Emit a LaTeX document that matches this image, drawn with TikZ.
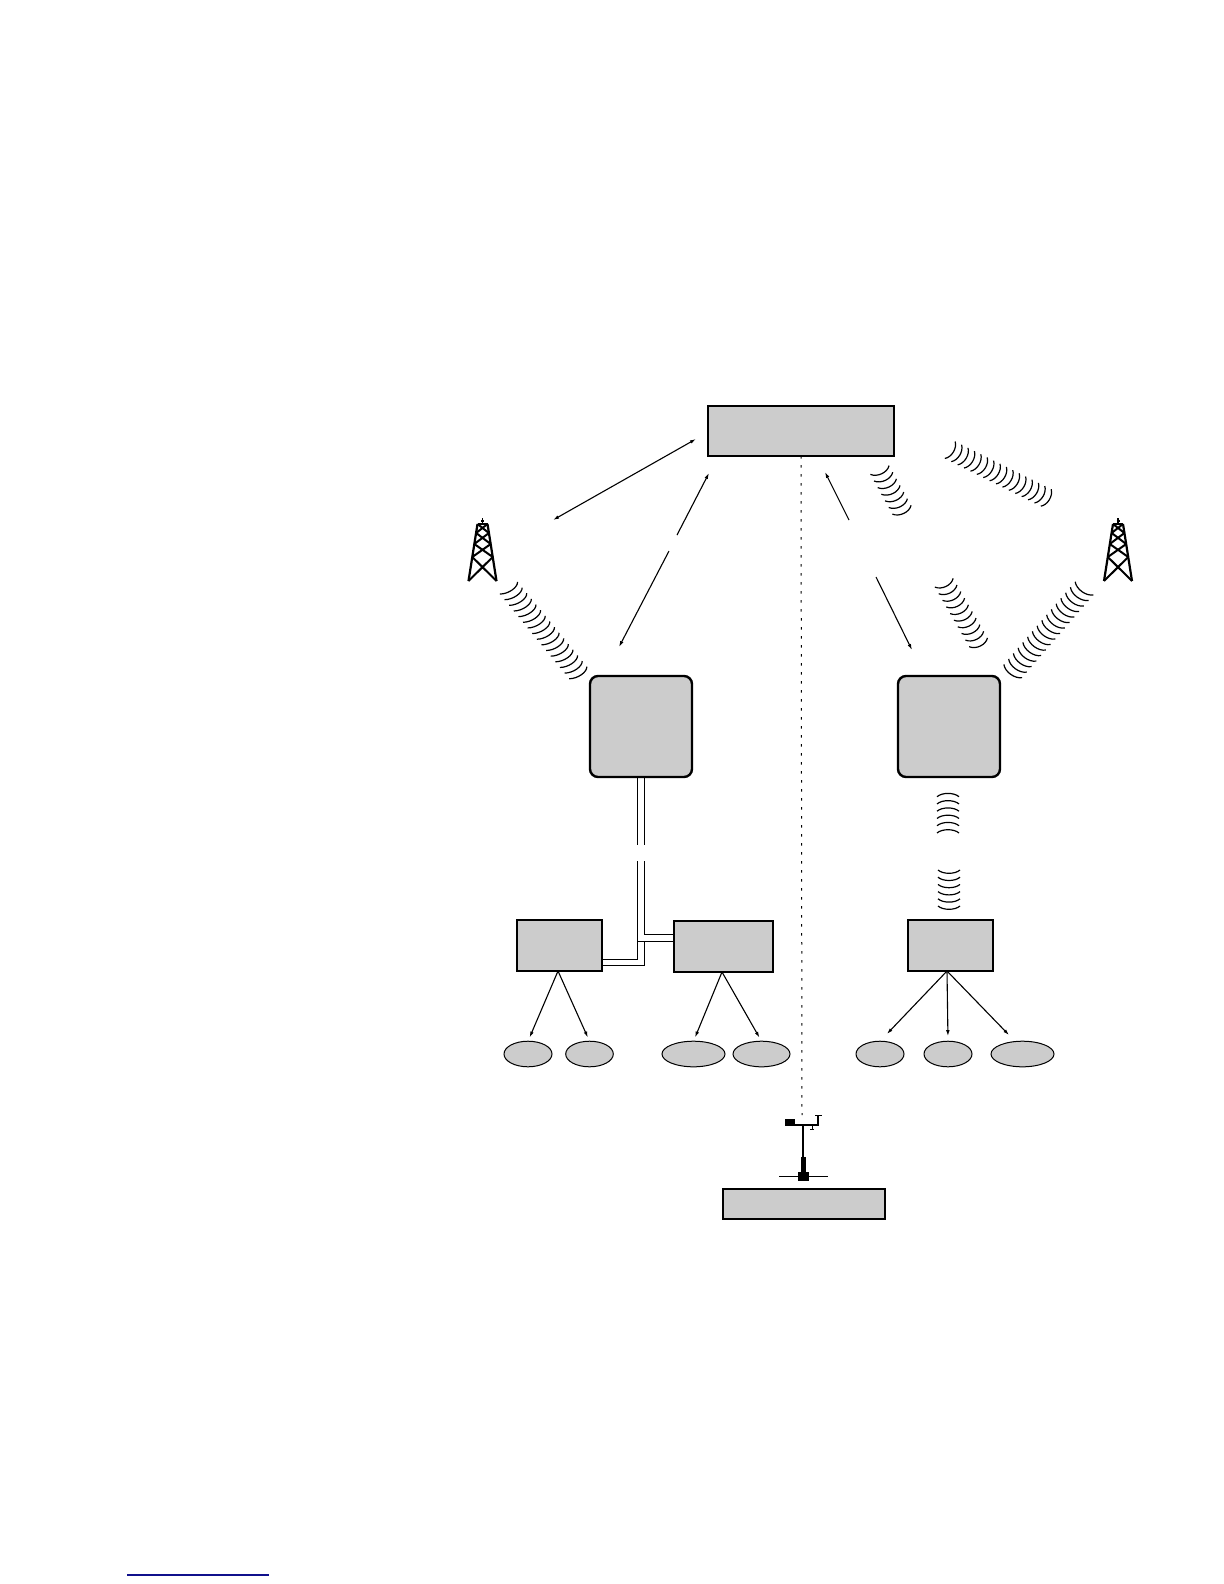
\documentclass[tikz,border=0pt]{standalone}
\usepackage{tikz}
\usetikzlibrary{arrows.meta,calc,shapes.geometric}
\usepackage{xcolor}
\definecolor{BoxGray}{HTML}{CCCCCC}
\definecolor{RuleBlue}{HTML}{10108C}
\tikzset{
  unitbox/.style={draw,fill=BoxGray,line width=1.2pt,inner sep=0pt,outer sep=0pt},
  gatebox/.style={unitbox,rounded corners=4pt},
  leafnode/.style={draw,fill=BoxGray,ellipse,line width=0.5pt,inner sep=0pt,outer sep=0pt,minimum height=12.8pt},
  link/.style={line width=0.55pt,{Latex[length=3pt,width=1.8pt]}-{Latex[length=3pt,width=1.8pt]}},
  fanout/.style={line width=0.55pt,-{Latex[length=3pt,width=1.8pt]}},
  cable/.style={line width=0.45pt},
  wave/.style={line width=0.6pt},
}
\newcommand{\wavearcs}[5]{%
  \foreach \i in {1,...,#3}{
    \pgfmathsetmacro\wt{(\i-1)/(#3-1)}
    \coordinate (wc) at ($#1!\wt!#2$);
    \draw[wave] ($(wc)-1.1*#4$) .. controls ($(wc)-0.6*#4+0.55*#5$) and ($(wc)+0.6*#4+0.55*#5$) .. ($(wc)+1.1*#4$);
  }
}
\newcommand{\lattower}[1]{%
  \begin{scope}[shift={(#1,524)}]
    \draw[line width=1.1pt] (-5,0)--(5,0);
    \draw[line width=0.8pt] (0,0)--(0,-6) (-1.5,-3)--(1.5,-3);
    \draw[line width=1.1pt] (-5,0)--(-14,57) (5,0)--(14,57);
    \foreach \ya/\wa/\yb/\wb in {0/5/9/6.4,9/6.4/20/8.2,20/8.2/33/10.2,33/10.2/57/14}{
      \draw[line width=1pt] (-\wa,\ya)--(\wb,\yb) (\wa,\ya)--(-\wb,\yb);
    }
  \end{scope}
}
\begin{document}
\begin{tikzpicture}[x=0.5pt,y=-0.5pt,>=Latex]
  \useasboundingbox (0,0) rectangle (1224,1584);
  % main boxes
  \node[unitbox,line width=1.3pt,minimum width=93pt,minimum height=25pt] (server) at (801,431) {};
  \node[gatebox,minimum width=51pt,minimum height=50.5pt] (gwL) at (641,726.5) {};
  \node[gatebox,minimum width=51pt,minimum height=50.5pt] (gwR) at (949,726.5) {};
  \node[unitbox,minimum width=42.5pt,minimum height=25.5pt] (bxL) at (559.5,945.5) {};
  \node[unitbox,minimum width=49.5pt,minimum height=25.5pt] (bxM) at (723.5,946.5) {};
  \node[unitbox,minimum width=42.5pt,minimum height=25.5pt] (bxR) at (950.5,945.5) {};
  \node[unitbox,minimum width=81pt,minimum height=15pt] (station) at (804,1204) {};
  % leaf ellipses
  \foreach \nm/\xx/\wid in {elA/528/24,elB/589.5/23.8,elC/693.5/31.5,elD/761.5/28.5,elE/880/24,elF/948/24,elG/1022.5/31.5}{
    \node[leafnode,minimum width=\wid pt] (\nm) at (\xx,1054) {};
  }
  \draw[fanout,shorten >=2pt] ([xshift=-0.75pt]bxL.south) -- (elA.north);
  \draw[fanout,shorten >=2pt] ([xshift=-0.75pt]bxL.south) -- (elB.north);
  \draw[fanout,shorten >=2pt] ([xshift=-0.75pt]bxM.south) -- (elC.north);
  \draw[fanout,shorten >=2pt] ([xshift=-0.75pt]bxM.south) -- (elD.north);
  \draw[fanout,shorten >=5pt] ([xshift=-1.75pt]bxR.south) -- (elE.north);
  \draw[fanout,shorten >=2.5pt] ([xshift=-1.75pt]bxR.south) -- (elF.north);
  \draw[fanout,shorten >=4.5pt] ([xshift=-1.75pt]bxR.south) -- (elG.120);
  % long arrows, broken where the picture leaves a gap
  \coordinate (tipA) at (696,439);
  \coordinate (tipB) at (553,520);
  \coordinate (tipC) at (709,473);
  \coordinate (tipD) at (677,535);
  \coordinate (tipE) at (669,551);
  \coordinate (tipF) at (619,647);
  \coordinate (tipG) at (825,472);
  \coordinate (tipH) at (849,520);
  \coordinate (tipJ) at (876,577);
  \coordinate (tipK) at (912,650);
  \draw[link] (tipA) -- (tipB);
  \draw[fanout] (tipD) -- (tipC);
  \draw[fanout] (tipE) -- (tipF);
  \draw[fanout] (tipH) -- (tipG);
  \draw[fanout] (tipJ) -- (tipK);
  % wired link
  \coordinate (dnA) at (637,845);
  \coordinate (dnB) at (644,845);
  \coordinate (upA) at (637,861);
  \coordinate (upB) at (644,861);
  \coordinate (jnA) at (637,959);
  \coordinate (jnB) at (644,965);
  \coordinate (jnC) at (637,941);
  \coordinate (jnD) at (644,934);
  \coordinate (jnE) at (644,941);
  \draw[cable] (dnA |- gwL.south) -- (dnA);
  \draw[cable] (dnB |- gwL.south) -- (dnB);
  \draw[cable] (upA) -- (jnA) -- (jnA -| bxL.east);
  \draw[cable] (upB) -- (jnD) -- (jnD -| bxM.west);
  \draw[cable] (jnE) -- (jnB) -- (jnB -| bxL.east);
  \draw[cable] (jnC) -- (jnC -| bxM.west);
  % radio links
  \wavearcs{(508.7,588)}{(578,672.7)}{16}{(8,-5.5)}{(8,5)}
  \wavearcs{(950,450)}{(1046,497.7)}{16}{(4.7,-7.7)}{(8,5)}
  \wavearcs{(1084.3,588.3)}{(1013,671)}{16}{(8.3,6)}{(-5.8,8)}
  \wavearcs{(944,582.7)}{(978.3,642.3)}{10}{(8.3,-4)}{(5,9)}
  \wavearcs{(879.7,470)}{(901.7,509.7)}{7}{(8.5,-4)}{(5,9)}
  \wavearcs{(948,796.7)}{(948,833)}{6}{(10,0)}{(0,-8)}
  \wavearcs{(949,870)}{(949,906)}{6}{(10,0)}{(0,8)}
  % towers
  \lattower{482.5}
  \lattower{1118}
  % mast
  \coordinate (mastTop) at (802,1115);
  \draw[line width=0.5pt,dash pattern=on 1.3pt off 3.2pt] (server.south) -- (mastTop);
  \draw[line width=1pt] (803,1125) -- (803,1158);
  \fill (801,1157) rectangle (805.7,1173);
  \fill (798,1172) rectangle (809,1181);
  \draw[line width=0.5pt] (779,1176) -- (828,1176);
  \fill (785,1119) rectangle (795,1126);
  \draw[line width=0.8pt] (794,1125) -- (818,1125) -- (818,1115);
  \draw[line width=0.5pt] (815,1115) -- (822,1115);
  \draw[line width=0.5pt] (812,1125) -- (812,1129);
  \draw[line width=0.9pt] (810,1129.5) -- (814,1129.5);
  % bottom rule
  \draw[RuleBlue,line width=0.55pt] (127,1575) -- (269,1575);
\end{tikzpicture}
\end{document}
